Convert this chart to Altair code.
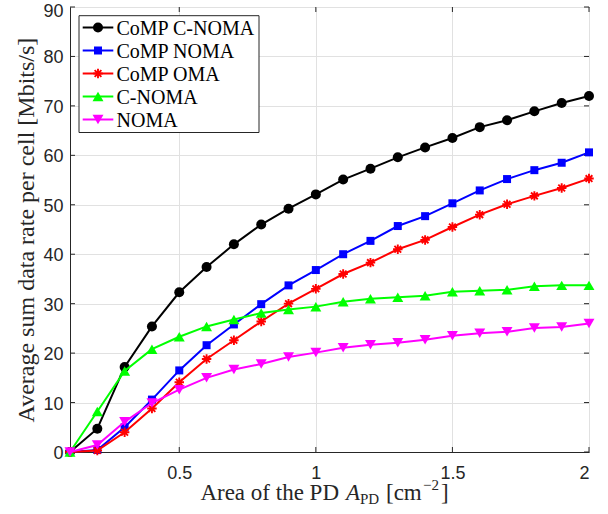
import altair as alt
import pandas as pd

# ---------------- data ----------------
area = [0.1, 0.2, 0.3, 0.4, 0.5, 0.6, 0.7, 0.8, 0.9, 1.0,
        1.1, 1.2, 1.3, 1.4, 1.5, 1.6, 1.7, 1.8, 1.9, 2.0]
comp_cnoma = [0.0, 4.7, 17.2, 25.4, 32.3, 37.4, 42.0, 46.0, 49.2, 52.1,
              55.1, 57.3, 59.6, 61.6, 63.5, 65.7, 67.1, 68.9, 70.6, 72.0]
comp_noma = [0.0, 0.4, 5.0, 10.6, 16.5, 21.6, 25.8, 29.9, 33.7, 36.8,
             40.0, 42.7, 45.7, 47.7, 50.3, 52.9, 55.2, 57.0, 58.5, 60.6]
comp_oma = [0.0, 0.3, 4.0, 8.8, 14.1, 18.8, 22.6, 26.4, 30.0, 33.0,
            36.0, 38.3, 41.0, 42.9, 45.5, 48.0, 50.1, 51.8, 53.4, 55.3]
c_noma = [0.0, 8.2, 16.4, 20.8, 23.3, 25.4, 26.8, 28.1, 28.8, 29.4,
          30.4, 31.0, 31.3, 31.6, 32.4, 32.6, 32.8, 33.5, 33.7, 33.7]
noma = [0.0, 1.4, 6.1, 9.9, 12.6, 15.0, 16.7, 17.8, 19.2, 20.1,
        21.1, 21.7, 22.1, 22.7, 23.5, 24.0, 24.3, 25.1, 25.3, 26.0]

series_names = ["CoMP C-NOMA", "CoMP NOMA", "CoMP OMA", "C-NOMA", "NOMA"]
series_values = [comp_cnoma, comp_noma, comp_oma, c_noma, noma]
series_colors = ["#000000", "#0000ff", "#ff0000", "#00ff00", "#ff00ff"]

x_ticks = [0.5, 1, 1.5, 2]
y_ticks = [0, 10, 20, 30, 40, 50, 60, 70, 80, 90]

# ---------------- styles ----------------
ASTERISK = "M0,-1L0,1M-1,0L1,0M-0.71,-0.71L0.71,0.71M-0.71,0.71L0.71,-0.71"
marker_styles = {
    "CoMP C-NOMA": dict(shape="circle", size=100, filled=True),
    "CoMP NOMA": dict(shape="square", size=64, filled=True),
    "CoMP OMA": dict(shape=ASTERISK, size=90, filled=False, strokeWidth=1.9),
    "C-NOMA": dict(shape="triangle-up", size=120, filled=True),
    "NOMA": dict(shape="triangle-down", size=120, filled=True),
}

SERIF = "Liberation Serif"
SANS = "Liberation Sans"
INK = "#262626"
W, H = 519, 445
TICK = 5

df = pd.concat(
    [pd.DataFrame({"area": area, "rate": v, "series": n})
     for n, v in zip(series_names, series_values)],
    ignore_index=True,
)

x_enc = alt.X(
    "area:Q",
    scale=alt.Scale(domain=[0.1, 2], nice=False, zero=False),
    axis=alt.Axis(values=x_ticks, format="~g", title=None, labelPadding=12),
)
y_enc = alt.Y(
    "rate:Q",
    scale=alt.Scale(domain=[0, 90], nice=False),
    axis=alt.Axis(values=y_ticks, title="Average sum data rate per cell [Mbits/s]",
                  labelPadding=7, titlePadding=4,
                  labelOffset=alt.ExprRef(expr="datum.value == 90 ? 4 : 1.5")),
)

layers = []

# inward tick marks on all four sides (MATLAB box style)
xt = pd.DataFrame({"area": x_ticks})
yt = pd.DataFrame({"rate": y_ticks})
layers.append(alt.Chart(yt).mark_rule(color=INK, strokeWidth=1).encode(
    y=y_enc, x=alt.value(0), x2=alt.value(TICK)))
layers.append(alt.Chart(yt).mark_rule(color=INK, strokeWidth=1).encode(
    y=y_enc, x=alt.value(W - TICK), x2=alt.value(W)))
layers.append(alt.Chart(xt).mark_rule(color=INK, strokeWidth=1).encode(
    x=x_enc, y=alt.value(H - TICK), y2=alt.value(H)))
layers.append(alt.Chart(xt).mark_rule(color=INK, strokeWidth=1).encode(
    x=x_enc, y=alt.value(0), y2=alt.value(TICK)))

for name, color in zip(series_names, series_colors):
    base = alt.Chart(df).transform_filter(alt.datum.series == name)
    layers.append(base.mark_line(color=color, strokeWidth=2).encode(x=x_enc, y=y_enc))
    layers.append(base.mark_point(color=color, opacity=1, **marker_styles[name]).encode(x=x_enc, y=y_enc))

# ---------------- legend (drawn inside the plot, top-left) ----------------
one = pd.DataFrame({"k": [0]})
leg_df = pd.DataFrame({"series": series_names})
layers.append(
    alt.Chart(one).mark_rect(fill="white", stroke=INK, strokeWidth=1).encode(
        x=alt.value(9), x2=alt.value(189), y=alt.value(8.7), y2=alt.value(125.5)
    )
)
for i, (name, color) in enumerate(zip(series_names, series_colors)):
    yc = 20.5 + 23 * i
    lb = alt.Chart(leg_df).transform_filter(alt.datum.series == name)
    layers.append(lb.mark_rule(color=color, strokeWidth=2).encode(
        x=alt.value(12.7), x2=alt.value(43.3), y=alt.value(yc)))
    layers.append(lb.mark_point(color=color, opacity=1, **marker_styles[name]).encode(
        x=alt.value(28), y=alt.value(yc)))
    layers.append(lb.mark_text(align="left", baseline="middle", font=SERIF, fontSize=20,
                               color="black").encode(
        x=alt.value(46.5), y=alt.value(yc + 1), text="series:N"))

# ---------------- x axis title (with sub/superscripts) ----------------
TY = 493
title_parts = [
    dict(text="Area of the PD", x=269, y=TY, size=23, align="right", style="normal"),
    dict(text="A", x=276, y=TY, size=23, align="left", style="italic"),
    dict(text="PD", x=290, y=TY + 4, size=15, align="left", style="normal"),
    dict(text="[cm", x=316, y=TY, size=23, align="left", style="normal"),
    dict(text="\u22122", x=353, y=TY - 10, size=15, align="left", style="normal"),
    dict(text="]", x=371, y=TY, size=23, align="left", style="normal"),
]
for p in title_parts:
    layers.append(
        alt.Chart(one).mark_text(text=p["text"], font=SERIF, fontSize=p["size"],
                                 fontStyle=p["style"], align=p["align"],
                                 baseline="alphabetic", color=INK).encode(
            x=alt.value(p["x"]), y=alt.value(p["y"]))
    )

chart = (
    alt.layer(*layers)
    .properties(
        width=W, height=H,
        padding={"left": 70, "top": 7, "right": 19, "bottom": 62},
        autosize=alt.AutoSizeParams(type="none"),
        background="white",
    )
    .configure_view(stroke=INK, strokeWidth=1)
    .configure_axis(
        domainColor=INK, domainWidth=1, ticks=False,
        gridColor="#e1e1e1", gridWidth=1,
        labelFont=SANS, labelFontSize=18, labelColor=INK,
        titleFont=SERIF, titleFontSize=24, titleFontWeight="normal", titleColor=INK,
    )
)

chart.save("out.html", embed_options={"renderer": "svg", "actions": False})
